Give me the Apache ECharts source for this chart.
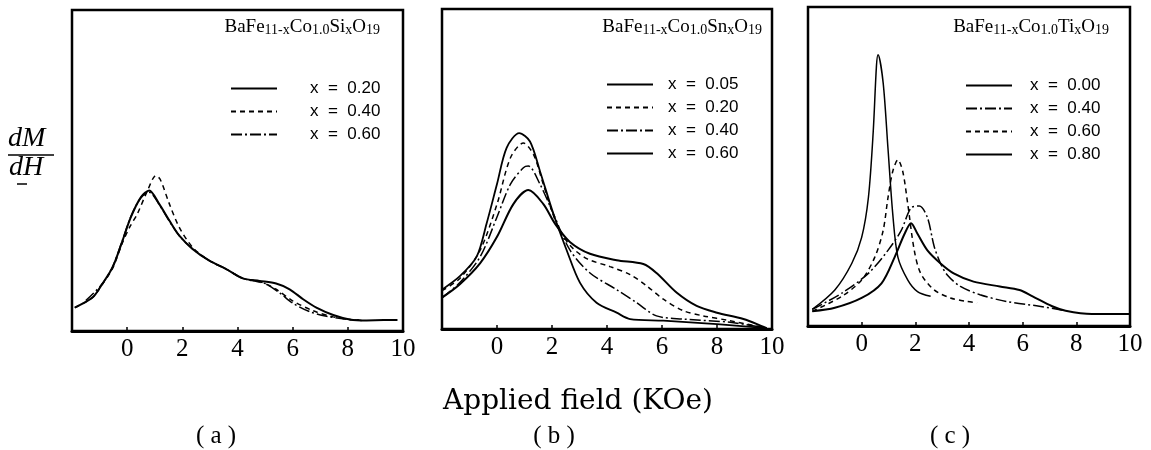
<!DOCTYPE html>
<html>
<head>
<meta charset="utf-8">
<script src="https://cdn.jsdelivr.net/npm/echarts@6/dist/echarts.min.js"></script>
<style>
html,body{margin:0;padding:0;background:#fff;}
#chart{width:1151px;height:450px;}
</style>
</head>
<body>
<div id="chart"></div>
<script>
// axis: applied field in kOe, dM/dH in arbitrary units (0..100 of the box)
var xTicks = [0, 2, 4, 6, 8, 10];
var panelNames = ["a", "b", "c"];

// (a) BaFe11-xCo1.0SixO19
var siX020 = [[-1.9,7.3],[-1.26,10.4],[-0.91,14.6],[-0.53,19.8],[-0.17,28.1],[0.13,35.4],[0.5,41.7],[0.8,43.8],[1.16,39.6],[1.53,34.4],[1.89,29.7],[2.38,25.5],[2.98,21.9],[3.59,19.3],[4.19,16.4],[4.8,15.6],[5.4,14.8],[5.89,13],[6.38,9.9],[6.86,7.3],[7.47,5],[8.07,3.6],[8.68,3.3],[9.3,3.4],[9.8,3.4]];
var siX040 = [[-1.9,7.3],[-1.26,10.4],[-0.91,14.4],[-0.53,19.5],[-0.17,27.5],[0.1,32.5],[0.37,36.5],[0.74,43.8],[1.04,48.4],[1.2,47.2],[1.53,39.6],[1.89,32.3],[2.38,26],[2.98,21.9],[3.59,19.3],[4.19,16.4],[4.8,15.4],[5.4,13],[6.0,9.4],[6.74,6.3],[7.47,4.4],[8.07,3.6],[8.5,3.3]];
var siX060 = [[-1.5,9.5],[-0.91,14.6],[-0.53,20],[-0.17,28.3],[0.13,35.6],[0.5,41.5],[0.8,43.2],[1.16,39.4],[1.53,34.2],[1.89,29.7],[2.38,25.5],[2.98,21.9],[3.59,19.3],[4.19,16.4],[4.7,15.4],[5.05,14.6],[5.54,11.8],[6.0,8.7],[6.62,6],[7.23,4.6],[8.0,3.6],[8.4,3.4]];

// (b) BaFe11-xCo1.0SnxO19
var snX005 = [[-2,12.3],[-1.35,16.5],[-0.74,22.6],[-0.38,32.9],[0,45.3],[0.35,56.6],[0.81,61.2],[1.2,58.6],[1.56,49.4],[2.05,36],[2.53,24.7],[3.02,14.4],[3.62,8.2],[4.35,5.1],[4.84,3.1],[6.05,2.6],[8,1.5],[9.8,0.3]];
var snX020 = [[-2,12],[-1.35,15.8],[-0.61,24.7],[0,39],[0.49,53.5],[0.96,58.1],[1.33,54.5],[1.68,45.3],[2.17,32.9],[2.65,26.2],[3.26,22],[4.11,19.5],[4.84,17],[5.44,13.5],[6.05,9.3],[6.78,5.7],[7.5,4.1],[8.47,2.6],[9.8,0.3]];
var snX040 = [[-2,9.8],[-1.35,14.5],[-0.61,22.6],[0,35],[0.49,45.3],[0.96,50.4],[1.14,50.9],[1.56,45.3],[2.05,36],[2.65,24.7],[3.38,17.5],[4.35,12.3],[5.08,8.2],[5.8,4.1],[6.78,3.1],[8.47,2.1],[9.8,0.3]];
var snX060 = [[-2,9.8],[-1.35,14],[-0.61,20.6],[0,28.8],[0.6,39.1],[1.14,43.4],[1.68,39.1],[2.11,32.9],[2.65,27.2],[3.38,23.5],[4.35,21.5],[5.32,20.3],[5.8,17.5],[6.54,11.3],[7.26,7.2],[8,5.1],[8.96,3.1],[9.8,0.3]];

// (c) BaFe11-xCo1.0TixO19
var tiX000 = [[-1.84,4.6],[-1.0,5.7],[0,8.8],[0.74,13.4],[1.23,21.6],[1.6,28.9],[1.84,32.2],[2.08,28.9],[2.45,23.7],[2.94,19.6],[3.43,16.5],[4.17,13.9],[5.15,12.4],[5.88,11.3],[6.37,9.3],[7.1,6.2],[7.6,4.8],[8.58,3.8],[10,3.8]];
var tiX040 = [[-1.84,5.2],[-0.74,10.3],[0.25,16.5],[0.98,23.7],[1.47,29.9],[1.84,37],[2.15,37.6],[2.45,34],[2.7,25],[2.94,19.6],[3.19,16],[3.68,12.4],[4.41,9.8],[5.39,7.7],[6.62,6.2],[7.6,4.8]];
var tiX060 = [[-1.84,4.6],[-0.74,9.3],[0,14.4],[0.49,21.6],[0.8,29.9],[0.98,40.2],[1.16,48.5],[1.35,52.1],[1.53,48.5],[1.72,38.1],[1.96,23.7],[2.2,16.5],[2.7,11.3],[3.31,8.8],[3.92,7.7],[4.3,7.3]];
var tiX080 = [[-1.84,5.2],[-1.0,11.3],[-0.37,19.6],[0,27.8],[0.25,40.2],[0.43,60.8],[0.55,81.4],[0.61,85],[0.8,76.3],[0.98,55.7],[1.16,35],[1.35,21.6],[1.72,14.4],[2.08,10.8],[2.57,9.3]];

var SOLID = "solid", DASH = [5, 4], DASHDOT = [11, 3, 2, 3];

var chart = echarts.init(document.getElementById("chart"), null, {renderer: "canvas"});

var grids = [
	{left: 72, top: 10, width: 331, height: 321},
	{left: 442, top: 9, width: 330, height: 320},
	{left: 808, top: 7, width: 322, height: 319}
];

function makeLine(panel, idx, xval, data, dash, width) {
	return {
		name: panel + "|" + xval,
		type: "line",
		xAxisIndex: idx,
		yAxisIndex: idx,
		data: data,
		symbol: "none",
		smooth: 0.3,
		silent: true,
		color: "#000",
		lineStyle: {color: "#000", width: width, type: dash}
	};
}

var series = [
	makeLine("a", 0, "0.20", siX020, SOLID, 2),
	makeLine("a", 0, "0.40", siX040, DASH, 1.5),
	makeLine("a", 0, "0.60", siX060, DASHDOT, 1.5),
	makeLine("b", 1, "0.05", snX005, SOLID, 1.8),
	makeLine("b", 1, "0.20", snX020, DASH, 1.5),
	makeLine("b", 1, "0.40", snX040, DASHDOT, 1.5),
	makeLine("b", 1, "0.60", snX060, SOLID, 2),
	makeLine("c", 2, "0.00", tiX000, SOLID, 2),
	makeLine("c", 2, "0.40", tiX040, DASHDOT, 1.5),
	makeLine("c", 2, "0.60", tiX060, DASH, 1.5),
	makeLine("c", 2, "0.80", tiX080, SOLID, 1.5)
];

var xAxes = [], yAxes = [], legends = [];
var legendLeft = [225, 601, 960];
var legendTop = [75, 71, 72];
var legendTextGap = [28, 10, 13];
for (var i = 0; i < 3; i++) {
	grids[i].show = true;
	grids[i].borderColor = "#000";
	grids[i].borderWidth = 2.5;
	xAxes.push({
		gridIndex: i, type: "value", min: -2, max: 10, interval: 2,
		axisLine: {show: true, lineStyle: {color: "#000", width: 3}},
		axisTick: {show: true, inside: true, length: 4, lineStyle: {color: "#000", width: 1.5}},
		splitLine: {show: false},
		axisLabel: {
			show: true, margin: 6, color: "#000", fontFamily: "Liberation Serif", fontSize: 25,
			formatter: function(v) { return xTicks.indexOf(v) >= 0 ? String(v) : ""; }
		}
	});
	yAxes.push({
		gridIndex: i, type: "value", min: 0, max: 100,
		axisLine: {show: false}, axisTick: {show: false}, axisLabel: {show: false}, splitLine: {show: false}
	});
	var names = [];
	series.forEach(function(s) { if (s.name.charAt(0) == panelNames[i]) names.push(s.name); });
	legends.push({
		data: names,
		orient: "vertical",
		left: legendLeft[i],
		top: legendTop[i],
		itemWidth: 46,
		itemHeight: 12,
		itemGap: 6,
		selectedMode: false,
		itemStyle: {opacity: 0},
		formatter: function(n) { return "x  =  " + n.split("|")[1]; },
		textStyle: {color: "#000", fontFamily: "Liberation Sans", fontSize: 17, padding: [0, 0, 0, legendTextGap[i]]}
	});
}

var titleRich = {
	n: {fontFamily: "Liberation Serif", fontSize: 19, fontWeight: "normal", lineHeight: 20, color: "#000"},
	s: {fontFamily: "Liberation Serif", fontSize: 14, fontWeight: "normal", lineHeight: 12, color: "#000", verticalAlign: "bottom"}
};
var formulas = [
	"{n|BaFe}{s|11-x}{n|Co}{s|1.0}{n|Si}{s|x}{n|O}{s|19}",
	"{n|BaFe}{s|11-x}{n|Co}{s|1.0}{n|Sn}{s|x}{n|O}{s|19}",
	"{n|BaFe}{s|11-x}{n|Co}{s|1.0}{n|Ti}{s|x}{n|O}{s|19}"
];
var titleRight = [771, 389, 42];
var titles = formulas.map(function(f, i) {
	return {text: f, right: titleRight[i], top: 17, padding: 0, textStyle: {fontWeight: "normal", rich: titleRich}};
});

var captionFont = "Liberation Serif";
var graphics = [
	{type: "text", left: 8, top: 125, style: {text: "dM", font: "italic 28px 'Liberation Serif'", fill: "#000"}},
	{type: "line", shape: {x1: 8, y1: 155, x2: 54, y2: 155}, style: {stroke: "#000", lineWidth: 1.5}},
	{type: "line", shape: {x1: 17, y1: 184, x2: 27, y2: 184}, style: {stroke: "#000", lineWidth: 1.5}},
	{type: "text", left: 9, top: 154, style: {text: "dH", font: "italic 28px 'Liberation Serif'", fill: "#000"}},
	{type: "text", x: 578, y: 402, style: {text: "Applied field (KOe)", font: "28px 'DejaVu Serif'", fill: "#000", align: "center", verticalAlign: "middle"}},
	{type: "text", x: 216, y: 436, style: {text: "( a )", font: "25px " + captionFont, fill: "#000", align: "center", verticalAlign: "middle"}},
	{type: "text", x: 554, y: 436, style: {text: "( b )", font: "25px " + captionFont, fill: "#000", align: "center", verticalAlign: "middle"}},
	{type: "text", x: 950, y: 436, style: {text: "( c )", font: "25px " + captionFont, fill: "#000", align: "center", verticalAlign: "middle"}}
];

chart.setOption({
	animation: false,
	backgroundColor: "#fff",
	title: titles,
	grid: grids,
	xAxis: xAxes,
	yAxis: yAxes,
	legend: legends,
	series: series,
	graphic: graphics
});
</script>
</body>
</html>
